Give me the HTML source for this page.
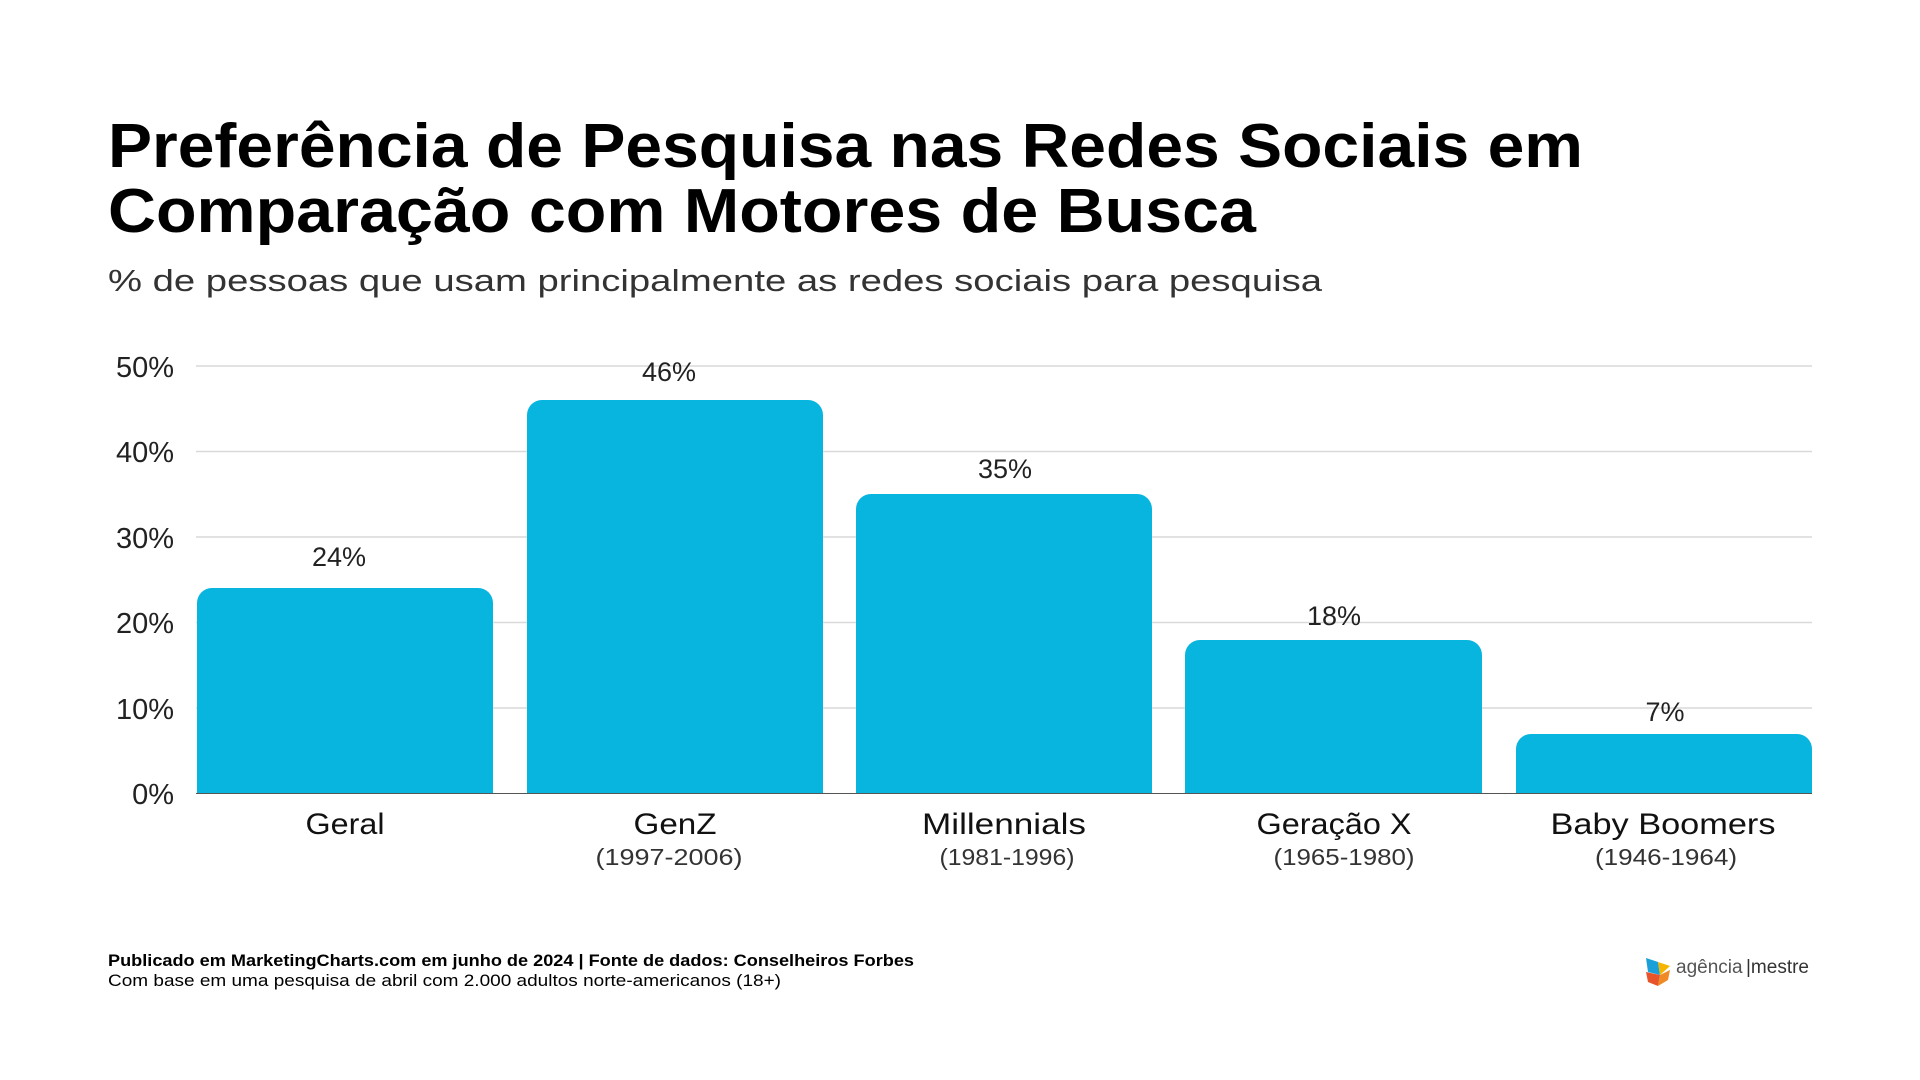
<!DOCTYPE html>
<html><head><meta charset="utf-8"><style>html,body{margin:0;padding:0;background:#fff}svg{display:block}</style></head>
<body>
<svg width="1920" height="1080" viewBox="0 0 1920 1080" xmlns="http://www.w3.org/2000/svg" font-family="Liberation Sans, sans-serif">
<rect width="1920" height="1080" fill="#fff"/>
<text x="108" y="167" font-size="62" font-weight="bold" fill="#000" textLength="1475" lengthAdjust="spacingAndGlyphs">Preferência de Pesquisa nas Redes Sociais em</text>
<text x="108" y="232" font-size="62" font-weight="bold" fill="#000" textLength="1148" lengthAdjust="spacingAndGlyphs">Comparação com Motores de Busca</text>
<text x="108" y="291" font-size="31" fill="#333" textLength="1214" lengthAdjust="spacingAndGlyphs">% de pessoas que usam principalmente as redes sociais para pesquisa</text>
<g stroke="#d9d9d9" stroke-width="1.5">
<line x1="196" x2="1812" y1="366" y2="366"/><line x1="196" x2="1812" y1="451.5" y2="451.5"/><line x1="196" x2="1812" y1="537" y2="537"/><line x1="196" x2="1812" y1="622.5" y2="622.5"/><line x1="196" x2="1812" y1="708" y2="708"/>
</g>
<g font-size="29" fill="#222" text-anchor="end">
<text x="174" y="377">50%</text><text x="174" y="462">40%</text><text x="174" y="548">30%</text><text x="174" y="633">20%</text><text x="174" y="719">10%</text><text x="174" y="804">0%</text>
</g>
<g fill="#08b5df">
<path d="M197,793.5 V603 a15,15 0 0 1 15,-15 H478 a15,15 0 0 1 15,15 V793.5Z"/>
<path d="M527,793.5 V415 a15,15 0 0 1 15,-15 H808 a15,15 0 0 1 15,15 V793.5Z"/>
<path d="M856,793.5 V509 a15,15 0 0 1 15,-15 H1137 a15,15 0 0 1 15,15 V793.5Z"/>
<path d="M1185,793.5 V655 a15,15 0 0 1 15,-15 H1467 a15,15 0 0 1 15,15 V793.5Z"/>
<path d="M1516,793.5 V749 a15,15 0 0 1 15,-15 H1797 a15,15 0 0 1 15,15 V793.5Z"/>
</g>
<line x1="196" x2="1812" y1="793.5" y2="793.5" stroke="#555" stroke-width="1"/>
<g font-size="27" fill="#222" text-anchor="middle">
<text x="339" y="566">24%</text><text x="669" y="381">46%</text><text x="1005" y="478">35%</text><text x="1334" y="625">18%</text><text x="1665" y="721">7%</text>
</g>
<g font-size="30" fill="#111" text-anchor="middle" lengthAdjust="spacingAndGlyphs">
<text x="345" y="834" textLength="79" lengthAdjust="spacingAndGlyphs">Geral</text>
<text x="675" y="834" textLength="83" lengthAdjust="spacingAndGlyphs">GenZ</text>
<text x="1004" y="834" textLength="164" lengthAdjust="spacingAndGlyphs">Millennials</text>
<text x="1334" y="834" textLength="155" lengthAdjust="spacingAndGlyphs">Geração X</text>
<text x="1663" y="834" textLength="225" lengthAdjust="spacingAndGlyphs">Baby Boomers</text>
</g>
<g font-size="23" fill="#333" text-anchor="middle">
<text x="669" y="865" textLength="147" lengthAdjust="spacingAndGlyphs">(1997-2006)</text>
<text x="1007" y="865" textLength="135" lengthAdjust="spacingAndGlyphs">(1981-1996)</text>
<text x="1344" y="865" textLength="141" lengthAdjust="spacingAndGlyphs">(1965-1980)</text>
<text x="1666" y="865" textLength="142" lengthAdjust="spacingAndGlyphs">(1946-1964)</text>
</g>
<text x="108" y="966" font-size="16.5" font-weight="bold" fill="#000" textLength="806" lengthAdjust="spacingAndGlyphs">Publicado em MarketingCharts.com em junho de 2024 | Fonte de dados: Conselheiros Forbes</text>
<text x="108" y="986" font-size="16.5" fill="#000" textLength="673" lengthAdjust="spacingAndGlyphs">Com base em uma pesquisa de abril com 2.000 adultos norte-americanos (18+)</text>
<g>
<polygon points="1646,958 1658,962 1660,975 1648,972" fill="#1aa0d8"/>
<polygon points="1658,962 1670,966 1660,975" fill="#f4b400"/>
<polygon points="1646,972 1660,975 1658,986 1648,982" fill="#e8542a"/>
<polygon points="1660,975 1670,970 1668,980 1658,986" fill="#f08a24"/>
<text x="1676" y="973" font-size="19" fill="#555">agência</text>
<text x="1746" y="973" font-size="19" fill="#333">|mestre</text>
</g>
</svg>
</body></html>
